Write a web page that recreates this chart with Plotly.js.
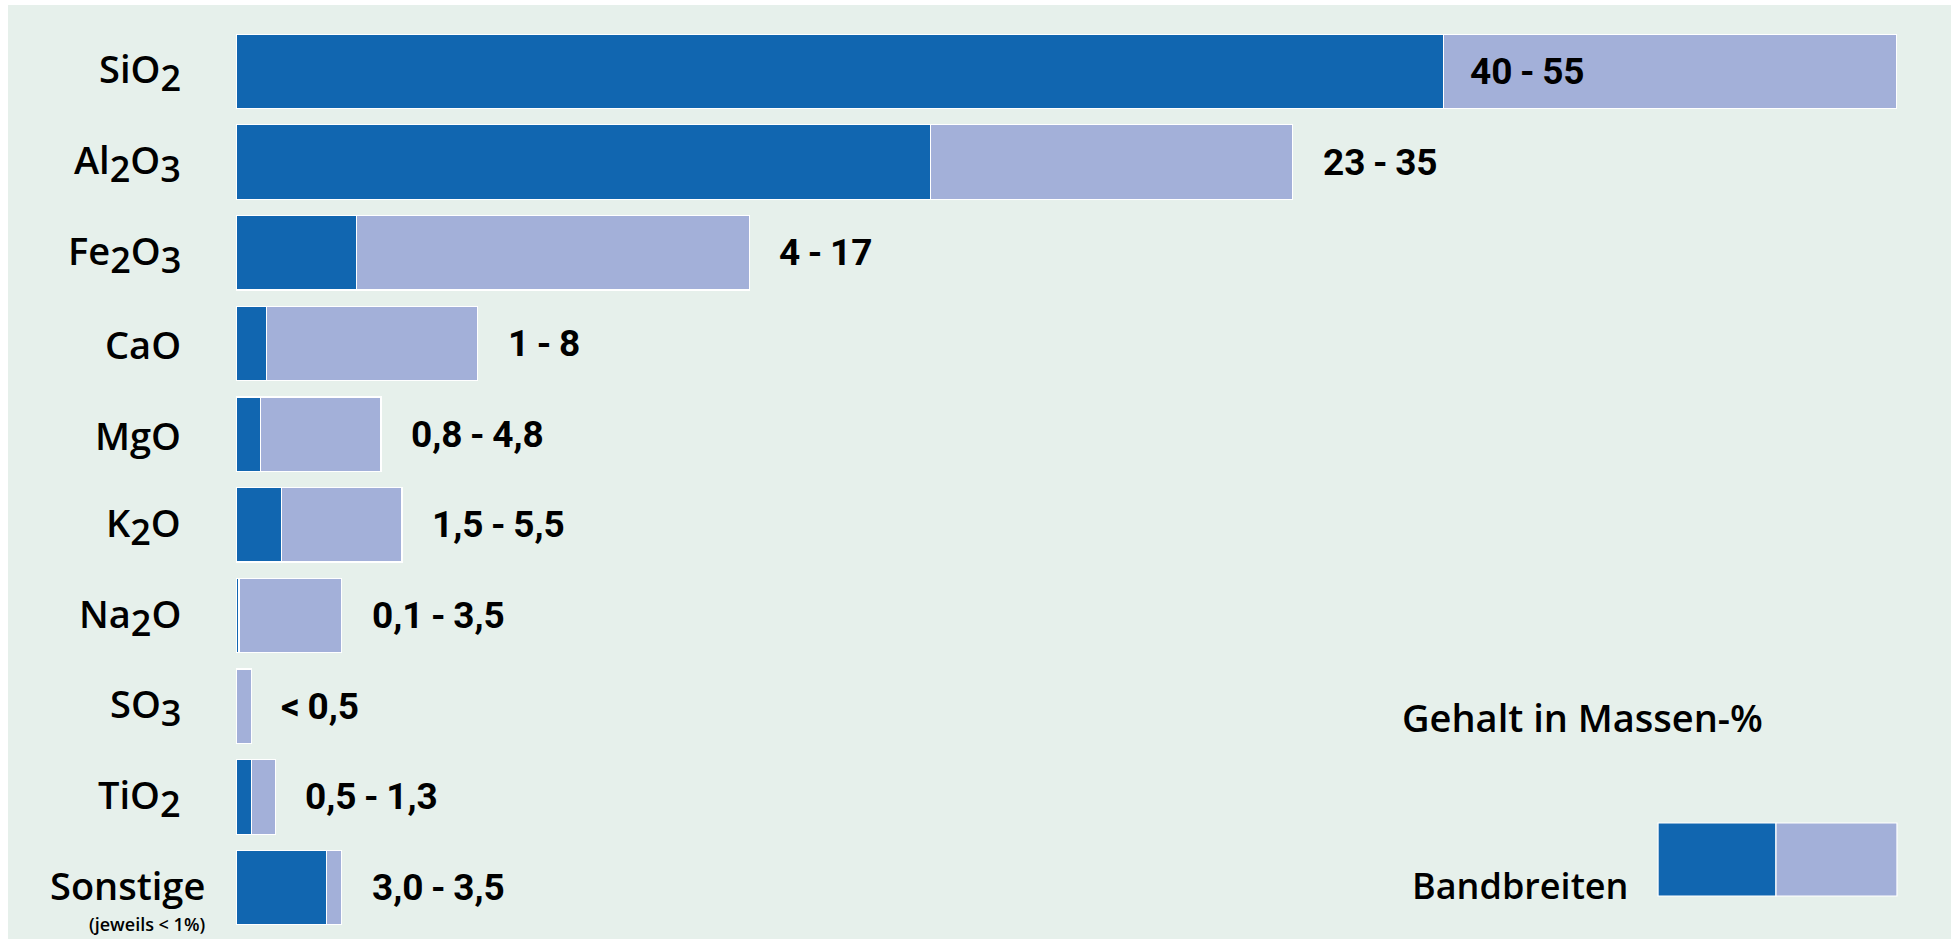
<!DOCTYPE html>
<html>
<head>
<meta charset="utf-8">
<script src="https://cdn.plot.ly/plotly-3.0.1.min.js"></script>
<style>
  html, body { margin: 0; padding: 0; background: #ffffff; }
  #chart { position: absolute; left: 8px; top: 5px; width: 1943px; height: 934px; }
</style>
</head>
<body>
<div id="chart"></div>
<script>
// ---- data ----
const categories = ['SiO2', 'Al2O3', 'Fe2O3', 'CaO', 'MgO', 'K2O', 'Na2O', 'SO3', 'TiO2', 'Sonstige'];
const categoryParts = [
  [['Si', ''], ['O', '2']],
  [['Al', '2'], ['O', '3']],
  [['Fe', '2'], ['O', '3']],
  [['CaO', '']],
  [['MgO', '']],
  [['K', '2'], ['O', '']],
  [['Na', '2'], ['O', '']],
  [['S', ''], ['O', '3']],
  [['Ti', ''], ['O', '2']],
  [['Sonstige', '']]
];
const minValues = [40, 23, 4, 1, 0.8, 1.5, 0.1, 0, 0.5, 3.0];
const maxValues = [55, 35, 17, 8, 4.8, 5.5, 3.5, 0.5, 1.3, 3.5];
const rangeLabels = ['40 - 55', '23 - 35', '4 - 17', '1 - 8', '0,8 - 4,8', '1,5 - 5,5', '0,1 - 3,5', '< 0,5', '0,5 - 1,3', '3,0 - 3,5'];
const noteText = '(jeweils < 1%)';
const unitText = 'Gehalt in Massen-%';
const legendText = 'Bandbreiten';

// ---- styles ----
const DARK = '#1166B0';
const LIGHT = '#A3B0D9';
const BG = '#E6F0EB';
const FAMILY = 'Open Sans, Lato, sans-serif';
const labelFont = { family: FAMILY, size: 38, color: '#000', weight: 600 };
const valueFont = { family: 'Roboto, sans-serif', size: 37, color: '#000', weight: 700 };
const X_MAX = 56.6;
const THIN = '\u2009';

const spanValues = maxValues.map((v, i) => v - minValues[i]);

function labelHtml(parts) {
  return parts.map(p => p[0] + (p[1] ? '<sub><span style="font-size:36px">' + p[1] + '</span></sub>' : '')).join('');
}

const traces = [
  {
    type: 'bar', orientation: 'h', y: categories, x: minValues,
    marker: { color: DARK, line: { color: '#ffffff', width: 1.2 } },
    hoverinfo: 'skip', showlegend: false
  },
  {
    type: 'bar', orientation: 'h', y: categories, x: spanValues,
    marker: { color: LIGHT, line: { color: '#ffffff', width: 1.2 } },
    hoverinfo: 'skip', showlegend: false
  }
];

const annotations = [];
categories.forEach((c, i) => {
  const isOther = c === 'Sonstige';
  annotations.push({
    x: 0, y: c, xref: 'x', yref: 'y', text: labelHtml(categoryParts[i]),
    xanchor: 'right', yanchor: 'middle', xshift: isOther ? -29 : -53, yshift: isOther ? 3 : -1,
    showarrow: false, font: labelFont
  });
  if (isOther) {
    annotations.push({
      x: 0, y: c, xref: 'x', yref: 'y', text: noteText,
      xanchor: 'right', yanchor: 'middle', xshift: -29, yshift: -36,
      showarrow: false, font: { family: FAMILY, size: 18, color: '#000', weight: 600 }
    });
  }
  const inside = maxValues[i] > X_MAX * 0.9;
  annotations.push({
    x: inside ? minValues[i] : maxValues[i], y: c, xref: 'x', yref: 'y',
    text: rangeLabels[i].replace(/ /g, THIN),
    xanchor: 'left', yanchor: 'middle', xshift: inside ? 24 : 28, yshift: 0,
    showarrow: false, font: valueFont
  });
});

annotations.push({
  x: 0.681, y: 0.238, xref: 'paper', yref: 'paper', text: unitText,
  xanchor: 'left', yanchor: 'middle', showarrow: false, font: labelFont
});
annotations.push({
  x: 0.687, y: 0.052, xref: 'paper', yref: 'paper', text: legendText,
  xanchor: 'left', yanchor: 'middle', showarrow: false, font: { family: FAMILY, size: 36, color: '#000', weight: 600 }
});

const shapes = [
  { type: 'rect', xref: 'paper', yref: 'paper', x0: 0.8321, x1: 0.9011, y0: 0.0408, y1: 0.1213,
    fillcolor: DARK, line: { color: '#ffffff', width: 1.2 } },
  { type: 'rect', xref: 'paper', yref: 'paper', x0: 0.9011, x1: 0.9719, y0: 0.0408, y1: 0.1213,
    fillcolor: LIGHT, line: { color: '#ffffff', width: 1.2 } }
];

const layout = {
  width: 1943, height: 934,
  margin: { l: 228, r: 6, t: 21, b: 6 },
  paper_bgcolor: BG, plot_bgcolor: BG,
  barmode: 'stack', bargap: 0.18,
  showlegend: false,
  xaxis: { range: [0, X_MAX], visible: false, fixedrange: true },
  yaxis: { type: 'category', categoryorder: 'array', categoryarray: categories,
           range: [categories.length - 0.5, -0.5], showticklabels: false, showgrid: false,
           zeroline: false, ticks: '', fixedrange: true },
  annotations: annotations,
  shapes: shapes
};

Plotly.newPlot('chart', traces, layout, { displayModeBar: false, staticPlot: true });
</script>
</body>
</html>
